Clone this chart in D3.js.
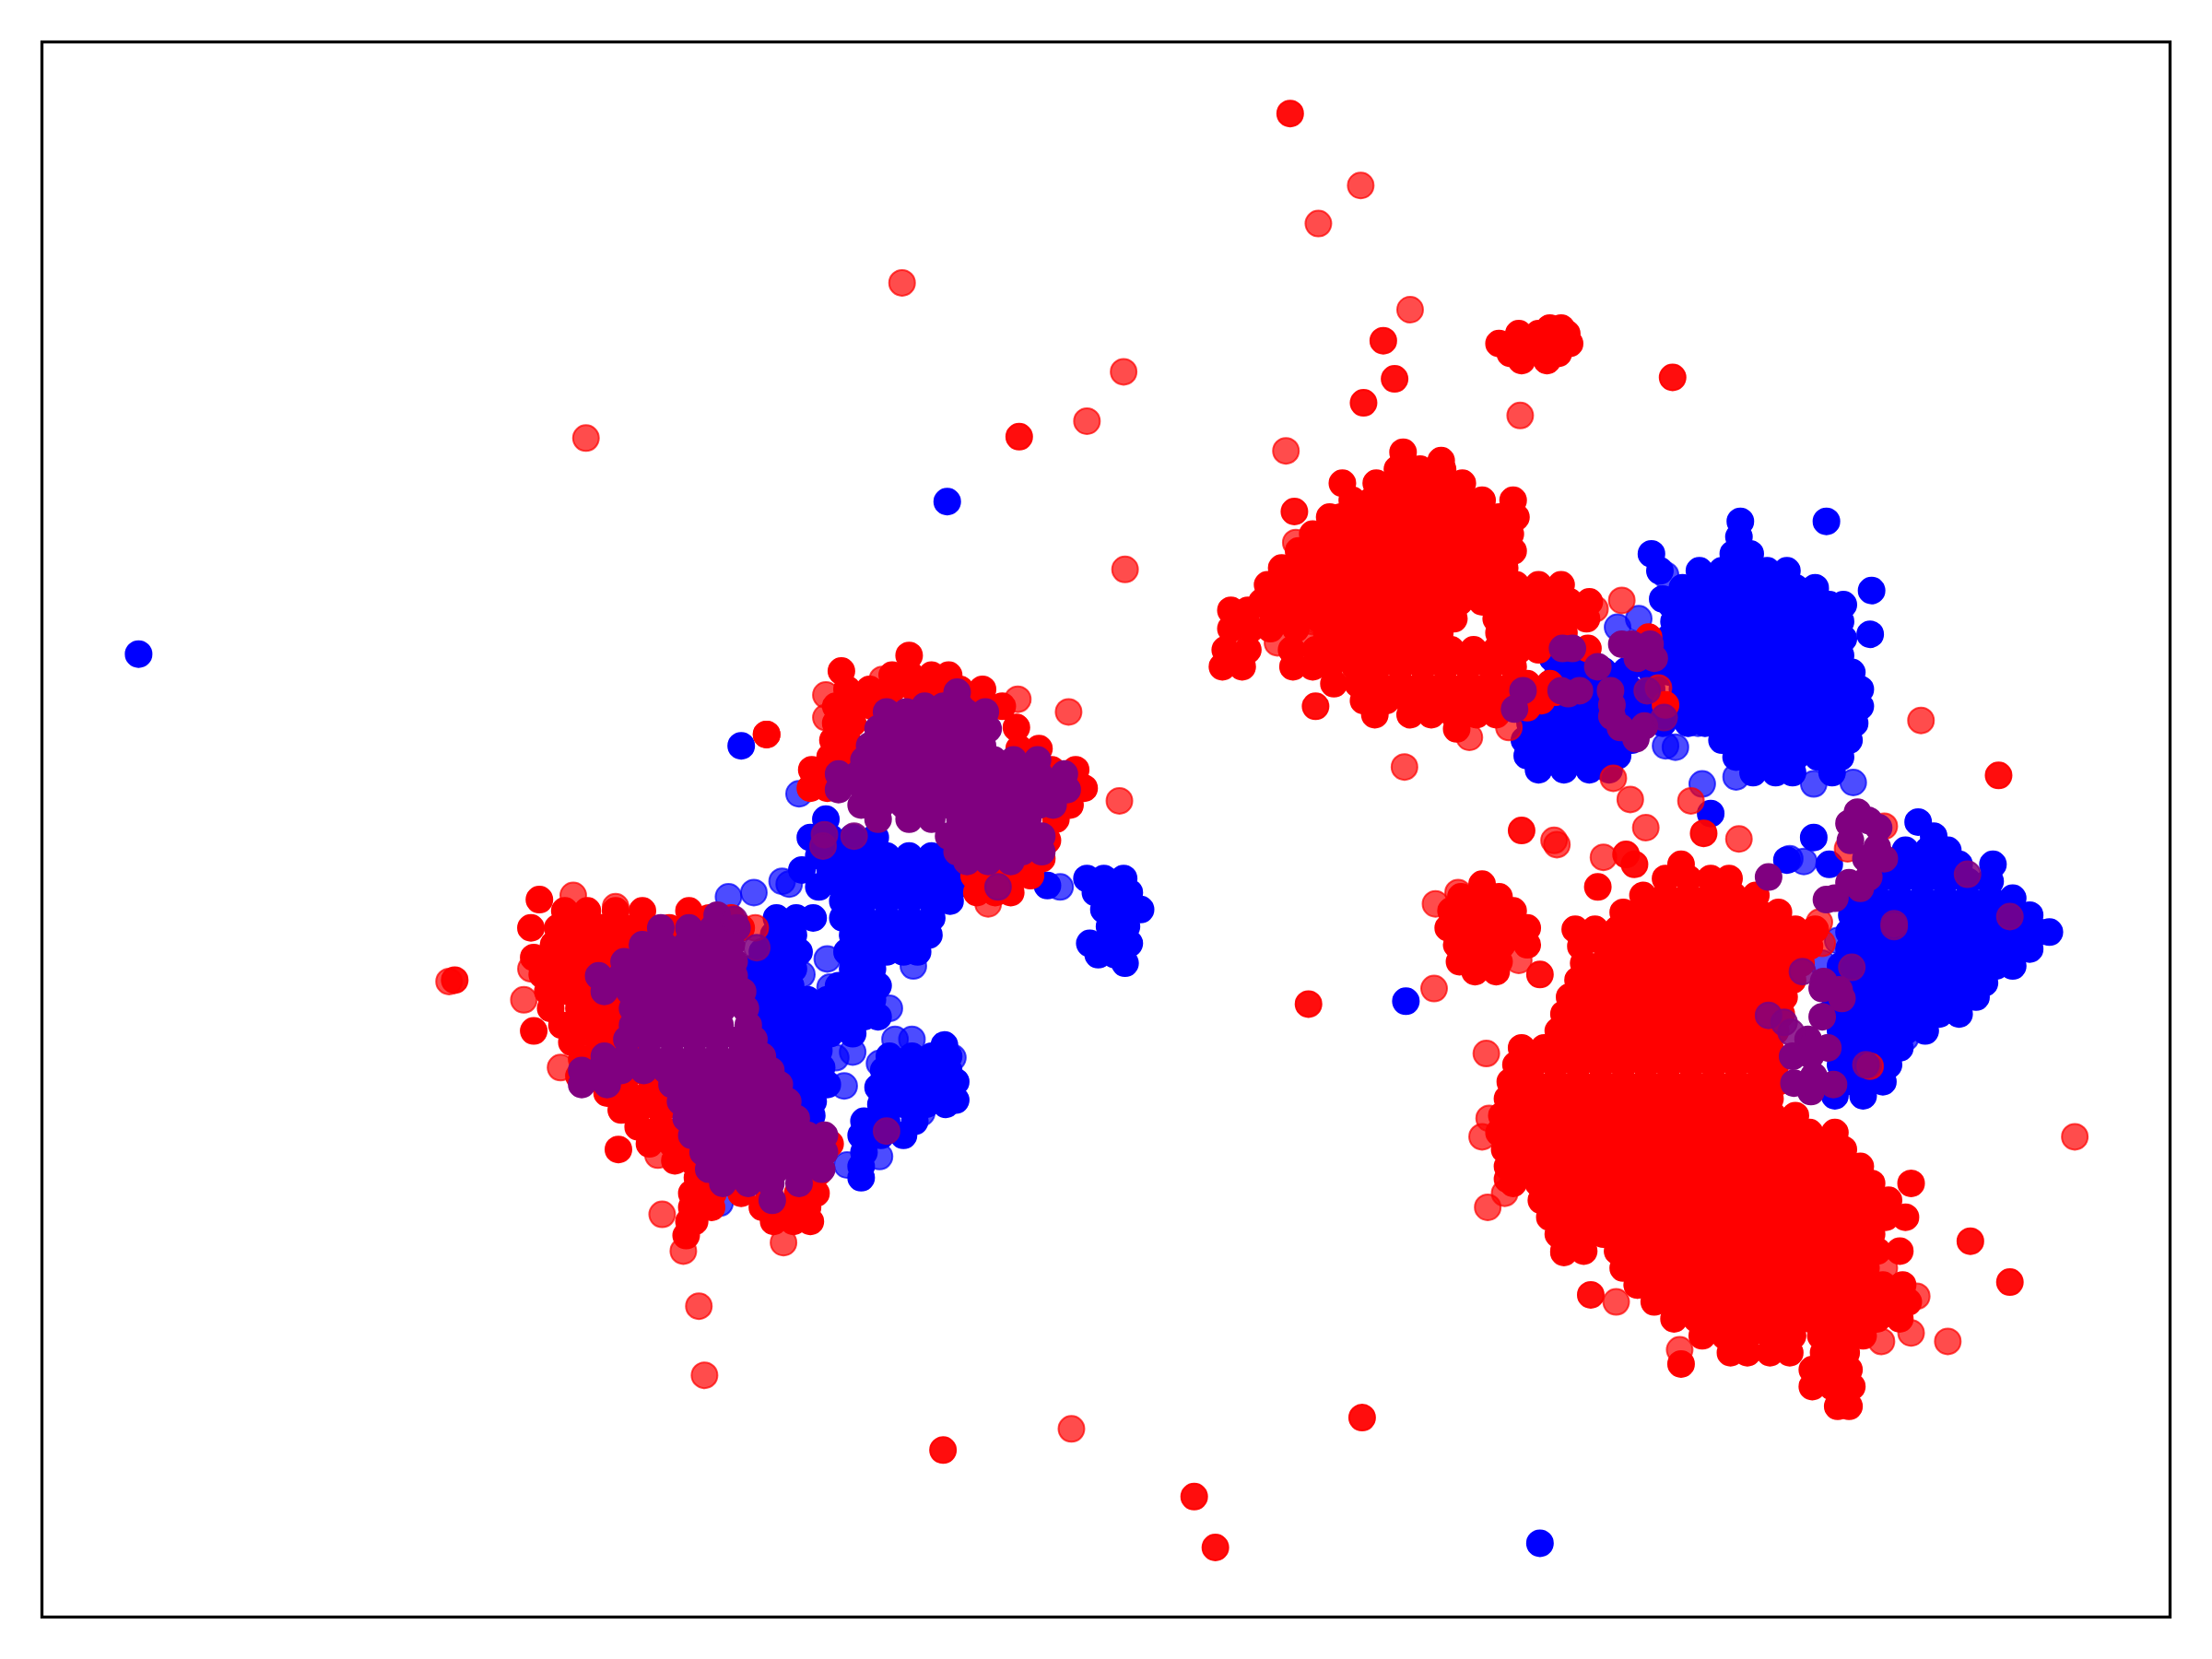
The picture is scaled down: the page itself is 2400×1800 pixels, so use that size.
<!DOCTYPE html>
<html>
<head>
<meta charset="utf-8">
<script src="https://cdn.jsdelivr.net/npm/d3@7"></script>
<style>
  html, body { margin: 0; padding: 0; background: #fff; }
  svg { display: block; }
</style>
</head>
<body>
<div id="chart"></div>
<script>
// values. dense clusters are rows of [y, x, x, x...]
const redDense = [
  // big lower right cluster
  [612,1191],[622,1180,1196,1212,1225],[628,1132],
  [634,1164,1180,1196,1212,1228,1244],
  [646,1150,1166,1182,1198,1214,1230,1246,1260],
  [658,1116,1130,1146,1162,1178,1194,1210,1226,1242,1258,1272,1286],
  [670,1120,1138,1154,1170,1186,1202,1218,1234,1250,1266,1282],
  [682,1122,1136,1152,1168,1184,1200,1216,1232,1248,1264,1276],
  [694,1118,1130,1146,1162,1178,1194,1210,1226,1242,1258,1270],
  [706,1112,1128,1144,1160,1176,1192,1208,1224,1240,1256,1264],
  [718,1108,1122,1138,1154,1170,1186,1202,1218,1234,1250,1262],
  [730,1104,1116,1132,1148,1164,1180,1196,1212,1228,1244,1258],
  [742,1078,1094,1110,1126,1142,1158,1174,1190,1206,1222,1238,1254],
  [754,1074,1086,1102,1118,1134,1150,1166,1182,1198,1214,1230,1246,1258],
  [766,1070,1086,1102,1118,1134,1150,1166,1182,1198,1214,1230,1246,1260],
  [778,1068,1078,1094,1110,1126,1142,1158,1174,1190,1206,1222,1238,1254],
  [790,1064,1080,1096,1112,1128,1144,1160,1176,1192,1208,1224,1240,1256,1272],
  [802,1062,1074,1090,1106,1122,1138,1154,1170,1186,1202,1218,1234,1250,1266,1282,1300],
  [814,1066,1082,1098,1114,1130,1146,1162,1178,1194,1210,1226,1242,1258,1274,1290,1306],
  [826,1068,1084,1100,1116,1132,1148,1164,1180,1196,1212,1228,1244,1260,1276,1292,1308,1318],
  [838,1072,1090,1106,1122,1138,1154,1170,1186,1202,1218,1234,1250,1266,1282,1298,1314,1326,1354],
  [850,1092,1108,1124,1140,1156,1172,1188,1204,1220,1236,1252,1268,1284,1300,1316,1326,1338],
  [862,1098,1114,1130,1146,1162,1178,1194,1210,1226,1242,1258,1274,1290,1306,1322,1336,1350],
  [874,1104,1120,1136,1152,1168,1184,1200,1216,1232,1248,1264,1280,1296,1312,1326],
  [886,1108,1122,1146,1160,1176,1192,1208,1224,1240,1256,1272,1288,1304,1318,1330,1346],
  [898,1150,1166,1182,1198,1214,1230,1246,1262,1278,1294,1310,1322],
  [910,1160,1174,1190,1206,1222,1238,1254,1270,1286,1302,1318,1334,1348],
  [922,1172,1182,1198,1214,1230,1246,1262,1278,1294,1310,1326,1342,1352],
  [934,1186,1202,1218,1234,1250,1266,1282,1298,1314,1330,1346],
  [946,1206,1222,1238,1254,1270,1290,1306,1320],
  [958,1226,1238,1254,1268,1292,1308],
  [966,1191],[970,1284,1296,1310],[982,1284,1298,1312],[996,1302,1310],
  // small cluster near the top
  [232,1098,1106],[236,1076,1090,1110],[243,1062,1072,1086,1100,1112],[250,1070,1080,1094,1104],[255,1078,1096],
  // cluster left of the big one
  [626,1050],[635,1035,1048,1062],[645,1028,1042,1058,1072],[657,1026,1040,1056,1072,1082],
  [669,1032,1048,1064,1082],[681,1034,1048,1062],[688,1045,1060],
  // upper middle cluster
  [320,994],[326,1021],[332,990,1006,1022],[342,951,975,991,1007,1023,1036],
  [354,958,972,988,1004,1020,1036,1050,1072],
  [366,942,950,966,982,998,1014,1030,1046,1062,1074],
  [378,930,944,960,976,992,1008,1024,1040,1056,1070],
  [390,920,936,952,968,984,1000,1016,1032,1048,1064,1072],
  [402,908,926,942,958,974,990,1006,1022,1038,1054,1066],
  [414,898,914,930,946,962,978,994,1010,1026,1042,1058,1074,1090,1106],
  [426,894,906,922,938,954,970,986,1002,1018,1034,1050,1066,1082,1098,1112,1126],
  [432,872,884],[438,902,918,934,950,966,982,998,1014,1030,1060,1076,1092,1108,1124],
  [445,872,886,900,918],[448,940,956,972,988,1004,1020,1062,1078,1094,1108],
  [460,868,884,915,932,950,964,980,996,1012,1028,1044,1060,1076,1090],
  [472,866,880,916,930,942,960,976,992,1008,1024,1040,1056,1072],
  [484,945,962,976,992,1008,1024,1040,1056,1072,1082,1098],
  [496,966,982,998,1014,1030,1046,1062,1076,1092],
  [506,974,999,1014,1030,1046,1060],[516,1032],
  // red behind the middle purple
  [459,1125],[451,1168],[499,1180],[490,1102],[501,1082],
  // lower left cluster
  [637,382],[645,400,416,436,455,488],[650,502,518],
  [657,376,395,410,426,442,458,474,490,505,525],
  [669,392,408,424,440,456,472,488],[678,378,390,404,420,436,452,468],
  [690,384,398,414,430,446,462],[702,388,402,418,434,450],
  [714,390,410,426,442,458],[726,398,416,432,448,464],[730,378],
  [738,405,424,440,456],[750,412,432,448],[762,410,428,444,460,476],
  [774,430,444,460,476],[786,440,452,468,484],[798,452,468,484],
  [810,460,476,490,588],[814,438],[822,478,490],[830,580],[834,494],
  [845,490,505,525,545,565,578],[855,490,504,540,556,572],[865,488,492,548,562,574],[875,486],
  // cluster above it
  [464,644],[475,596],[478,632,645,660,672],[488,600,616,632,648,664,680,696],
  [500,592,604,618,690,710],[512,592,604],[515,720],[520,543],[524,590,600],
  [530,722,736],[536,588,600],[545,575,590,745,762],[558,574,586,768],
  [570,758],[580,748],[595,742],[608,738],[620,690,700,716,730],[632,692,705,716]
];
const redLoose = [
  [415,310],[639,200],[934,158],[964,131],[999,219],[796,263],[770,298],[1077,294],[911,319],[797,403],
  [757,504],[793,567],[1361,510],[1470,805],[1380,950],[1016,700],[1053,746],[995,543],[1050,805],[1055,792],
  [1054,855],[1066,845],[759,1012],[499,974],[495,925],[469,860],[371,708],[1145,922],[1166,586],[1155,566],
  [1143,551],[1198,567],[1232,594],[1103,598],[1101,595],[1136,607],[1160,910],[1190,956],[1333,950],[1354,944],
  [1358,918],[1017,640],[1033,632],[1076,680],[918,384],[930,440],[905,455],[925,455],[940,470],[1041,522],
  [1069,515],[1149,425],[406,634],[436,642],[376,686],[397,756],[466,818],[487,818],[484,886],[555,880],
  [535,657],[520,655],[585,492],[585,508],[625,481],[721,495],[700,640],[318,695],[1111,880],[1175,487],
  [1130,431],[1335,585],[1309,601],[1325,755],[1289,653],[1291,668],[1335,898]
];
const redSolid = [
  [914,80],[980,241],[988,268],[966,285],[1185,267],[722,309],[917,362],[932,500],[543,520],[1416,549],
  [1078,588],[1207,590],[1152,605],[1158,612],[927,711],[1091,690],[322,694],[668,1027],[846,1060],[861,1096],
  [965,1004],[1396,879],[1424,908],[1127,917],[1108,887],[1068,835]
];
const blueDense = [
  // top right cluster
  [369,1233],[380,1232],[392,1170,1228,1240],[404,1176,1204,1220,1236,1252,1266],
  [416,1192,1208,1224,1240,1256,1272,1286],[424,1178],
  [428,1184,1200,1216,1232,1248,1264,1280,1296,1306],
  [440,1186,1192,1208,1224,1240,1256,1272,1288,1304],
  [452,1182,1200,1216,1232,1248,1264,1280,1296,1306],
  [464,1178,1192,1208,1224,1240,1256,1272,1288,1304],
  [476,1176,1184,1200,1216,1232,1248,1264,1280,1296,1312],
  [488,1170,1192,1208,1224,1240,1256,1272,1288,1304,1318],
  [500,1190,1200,1216,1232,1248,1264,1280,1296,1312,1318],
  [512,1196,1208,1224,1240,1256,1272,1288,1304,1314],
  [524,1220,1232,1248,1264,1280,1296,1310],
  [536,1230,1240,1256,1272,1288,1304],[547,1242,1258,1270,1298],
  // small cluster beside it
  [466,1100,1116],[475,1104,1120,1136,1152,1170],[488,1096,1110,1126,1142,1155,1170],
  [500,1098,1114,1130,1146,1161,1170],
  [512,1084,1092,1106,1122,1138,1154,1178],[524,1080,1096,1112,1128,1144,1156],
  [535,1082,1098,1114,1130,1146],[545,1090,1108,1126,1140],
  // diamond
  [582,1359],[592,1370],[593,1285],[602,1350,1366,1380],[612,1296,1340,1356,1372,1388,1412],
  [624,1330,1346,1362,1378,1394,1410],[636,1316,1330,1346,1362,1378,1394,1410,1426],
  [648,1312,1326,1342,1358,1374,1390,1406,1422,1438],
  [660,1310,1318,1334,1350,1366,1382,1398,1414,1430,1444,1452],
  [672,1310,1326,1342,1358,1374,1390,1406,1422,1438],
  [684,1304,1318,1334,1350,1366,1382,1398,1414,1426],
  [696,1296,1310,1326,1342,1358,1374,1390,1406],
  [706,1300,1318,1334,1350,1366,1382,1400],
  [718,1296,1310,1326,1342,1358,1374,1388],
  [730,1304,1318,1334,1350,1364],[742,1296,1312,1328,1346],[754,1304,1320,1338],
  [766,1308,1322,1334],[776,1300,1320],
  // left structure
  [580,585],[593,574,588,604,620],[606,580,596,612,628,644,660,672],
  [616,568,588,604,620,636,652,668,682],[628,580,596,612,628,644,660,676],
  [638,597,612,628,644,660,673],[650,550,564,576,597,612,628,644,660],
  [662,548,562,604,620,636,648,658],[674,540,553,566,600,614,628,640,650],
  [686,532,548,562,604,618],[698,530,546,560,594,608,622],[708,540,556,572,586,602,618],
  [720,532,548,564,580,596,612,622],[732,540,556,572,588,604],[744,548,564,580],
  [756,552,568,582],[768,556,572,586],[780,562,576],[790,575],
  // patch lower right of it
  [740,669],[748,630,646,660,672],[758,626,640,656,672],[766,677],[770,622,636,652,668],
  [779,677],[782,624,640,656,670],[794,612,628,648],[804,610,624,640],[816,612],[826,610],[834,610],
  // blob on the right
  [622,770,782,796],[632,776,790,800],[644,782,796,808],[656,786,798],
  [668,772,785,800],[676,778,790],[682,797]
];
const blueLoose = [
  [1180,407],[1286,418],[1203,512],[1230,550],[1285,555],[1313,554],[1206,555],[1161,438],[1146,444],[1180,528],
  [1187,529],[1278,610],[1268,608],[1291,682],[1302,666],[1350,735],[566,562],[554,624],[559,626],[516,635],[534,632],
  [751,628],[647,684],[586,679],[568,690],[588,699],[630,714],[592,749],[604,745],[598,769],[653,788],[600,825],
  [623,819],[634,736],[646,736],[623,753],[625,772],[675,749],[698,503],[510,852]
];
const blueSolid = [
  [98,463],[671,355],[1294,369],[525,528],[996,709],[1091,1093],[1212,576],[1326,418],[1325,449],[742,627],[1266,609]
];
const purpleDense = [
  // lower left
  [648,508],[657,468,488,505,522],[669,455,470,486,502,518],[681,442,458,474,490,506,520],
  [691,424,440,456,472,488,504,520],[702,428,446,462,478,494,510,526],[714,448,464,480,496,512,528],
  [726,448,462,478,494,510,530],[736,444,460,476,492,508,524,534],
  [748,428,444,460,476,492,508,524,540],[758,412,424,440,456,472,488,504,520,536,546],
  [768,412,430,476,490,506,522,538,552],[780,482,498,514,530,546,558],[792,486,500,516,532,548,564],
  [804,490,508,524,540,556,572,584],[816,498,512,528,544,560,576,584],[828,502,518,534,550,566,582],
  [838,512,530,546,566],[850,547],
  // upper left
  [490,678],[500,655,668,680],[504,628,642,656,670,684,698],[516,622,636,652,668,684,700],
  [528,616,632,648,664,680,696],[538,612,626,642,658,674,690,704,718,735],
  [548,594,608,624,640,656,672,688,704,720,736,754],[559,594,612,628,644,660,676,692,708,724,740,756],
  [570,610,624,640,656,672,688,704,720,736,746],[580,622,644,660,680,696,712,728],
  [592,672,688,704,720,738],[603,678,692,708,724,738],[610,685,700,716],
  // middle right
  [459,1107,1114],[472,1132],[456,1149,1156,1169],[466,1172,1160],
  [489,1079,1106,1119,1141],[491,1111],[502,1073],[499,1142],[507,1142],[515,1148],[514,1165],[523,1159],
  // along the blue diamond
  [575,1316],[583,1310],[581,1324],[586,1331],[595,1311],[600,1330],[608,1322,1335],[621,1324,1253],
  [625,1310],[629,1318],[636,1300],[637,1294],
  [695,1292],[700,1291],[701,1303],[707,1305],[720,1291],[736,1281],[742,1295],[747,1283],[748,1270],
  [762,1285],[767,1271],[768,1299],[773,1283]
];
const purpleLoose = [
  [584,591],[583,599],[605,592],[628,801],[536,671],[520,651],[707,628],[1167,489],[1179,508],[1342,654],[1342,656],
  [1394,619],[1424,649],[1312,685],[1277,688],[1322,754],[1253,719],[1264,724],[1269,731]
];

// the groups in drawing order
const layers = [
  { rows: blueDense, color: 'blue', alpha: 1 },
  { points: blueSolid, color: 'blue', alpha: 1 },
  { points: blueLoose, color: 'blue', alpha: 0.7 },
  { rows: redDense, color: 'red', alpha: 1 },
  { points: redSolid, color: 'red', alpha: 0.95 },
  { points: redLoose, color: 'red', alpha: 0.7 },
  { rows: purpleDense, color: 'purple', alpha: 1 },
  { points: purpleLoose, color: 'purple', alpha: 0.85 }
];

const WIDTH = 2400;
const HEIGHT = 1800;
const MARGIN_LEFT = 45.5;
const MARGIN_RIGHT = 45.5;
const MARGIN_TOP = 45.5;
const MARGIN_BOTTOM = 45.5;
const DOT_RADIUS = 14;

const scaleX = d3.scaleLinear().domain([29.5, 1537.5]).range([MARGIN_LEFT, WIDTH - MARGIN_RIGHT]);
const scaleY = d3.scaleLinear().domain([29.3, 1145.3]).range([MARGIN_TOP, HEIGHT - MARGIN_BOTTOM]);

// rows of [y, x, x...] into [x, y]
const expand = (rows) => rows.flatMap(([y, ...xs]) => xs.map((x) => [x, y]));

const $svg = d3.select('#chart').append('svg').attr('width', WIDTH).attr('height', HEIGHT);
const $vis = $svg.append('g').attr('class', 'g-vis');

layers.forEach((layer) => {
  const points = layer.rows ? expand(layer.rows) : layer.points;
  $vis.append('g')
    .selectAll('circle')
    .data(points)
    .join('circle')
    .attr('cx', (d) => scaleX(d[0]))
    .attr('cy', (d) => scaleY(d[1]))
    .attr('r', DOT_RADIUS)
    .attr('fill', layer.color)
    .attr('fill-opacity', layer.alpha)
    .attr('stroke', layer.color)
    .attr('stroke-opacity', layer.alpha)
    .attr('stroke-width', 2);
});

// axes frame, no ticks
$svg.append('rect')
  .attr('x', scaleX.range()[0])
  .attr('y', scaleY.range()[0])
  .attr('width', scaleX.range()[1] - scaleX.range()[0])
  .attr('height', scaleY.range()[1] - scaleY.range()[0])
  .attr('fill', 'none')
  .attr('stroke', '#000')
  .attr('stroke-width', 3.3);
</script>
</body>
</html>
